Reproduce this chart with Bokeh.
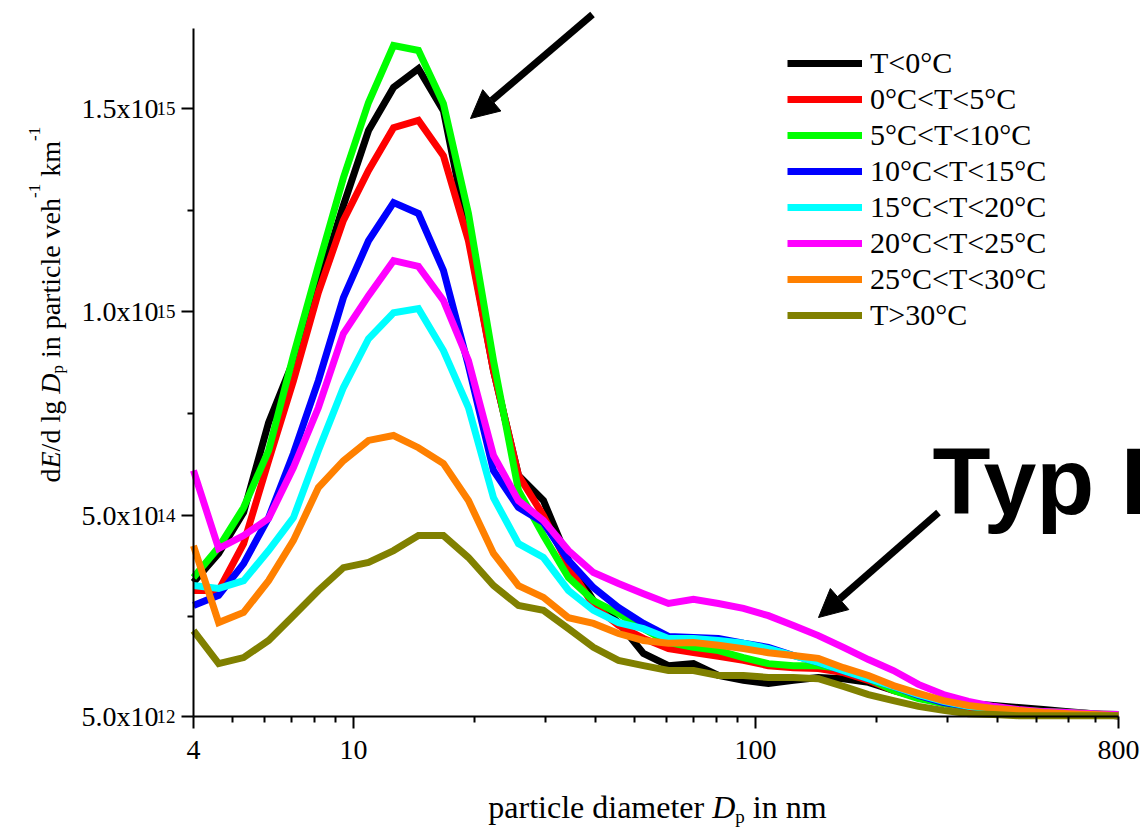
import math

from bokeh.plotting import figure
from bokeh.models import (Range1d, FixedTicker, PrintfTickFormatter, CustomJSTickFormatter,
                          Legend, LegendItem, Label, Arrow, NormalHead)
from bokeh.embed import file_html
from bokeh.resources import INLINE

# ---------------------------------------------------------------- data
# particle diameter channels in nm
diameters = [4.00, 4.62, 5.33, 6.15, 7.09, 8.18, 9.44, 10.90, 12.58, 14.51,
             16.74, 19.32, 22.30, 25.73, 29.69, 34.26, 39.53, 45.62, 52.64, 60.75,
             70.10, 80.89, 93.34, 107.7, 124.3, 143.4, 165.5, 191.0, 220.4, 254.3,
             293.5, 338.7, 390.8, 451.0, 520.4, 600.5, 693.0, 800.0]

# emission factors dE/dlgDp, in units of 1e14 particles per vehicle and km
t_below_0 = [3.35, 4.06, 5.07, 7.28, 8.80, 10.65, 12.62, 14.46, 15.52, 15.98,
             14.95, 11.88, 8.56, 5.98, 5.36, 3.89, 2.90, 2.36, 1.60, 1.30,
             1.35, 1.06, 0.94, 0.86, 0.94, 1.01, 0.98, 0.89, 0.69, 0.52,
             0.44, 0.37, 0.32, 0.27, 0.22, 0.17, 0.12, 0.07]
t_0_5 = [3.15, 3.15, 4.30, 6.34, 8.31, 10.48, 12.25, 13.48, 14.53, 14.71,
         13.84, 11.75, 8.56, 5.98, 4.99, 3.76, 2.78, 2.29, 1.97, 1.72,
         1.62, 1.53, 1.43, 1.30, 1.25, 1.23, 1.13, 0.94, 0.69, 0.52,
         0.37, 0.27, 0.22, 0.17, 0.15, 0.12, 0.10, 0.07]
t_5_10 = [3.47, 4.21, 5.19, 6.59, 8.93, 11.14, 13.30, 15.15, 16.55, 16.43,
          15.12, 12.42, 8.80, 5.61, 4.50, 3.47, 2.90, 2.58, 2.21, 1.87,
          1.75, 1.67, 1.50, 1.35, 1.30, 1.30, 1.23, 0.98, 0.69, 0.49,
          0.37, 0.30, 0.25, 0.20, 0.17, 0.15, 0.12, 0.10]
t_10_15 = [2.78, 3.03, 3.81, 4.94, 6.52, 8.31, 10.35, 11.75, 12.69, 12.42,
           11.02, 8.68, 6.10, 5.19, 4.82, 3.89, 3.22, 2.73, 2.34, 2.02,
           1.99, 1.97, 1.85, 1.75, 1.55, 1.38, 1.18, 0.98, 0.79, 0.57,
           0.39, 0.30, 0.22, 0.17, 0.15, 0.12, 0.10, 0.07]
t_15_20 = [3.27, 3.20, 3.39, 4.13, 4.94, 6.59, 8.14, 9.34, 9.98, 10.08,
           9.05, 7.65, 5.43, 4.30, 3.96, 3.15, 2.66, 2.36, 2.21, 1.97,
           1.97, 1.92, 1.85, 1.72, 1.55, 1.38, 1.18, 0.98, 0.79, 0.59,
           0.42, 0.30, 0.22, 0.17, 0.15, 0.12, 0.10, 0.07]
t_20_25 = [6.10, 4.18, 4.50, 4.92, 6.17, 7.65, 9.47, 10.40, 11.26, 11.12,
           10.28, 8.80, 6.47, 5.36, 4.87, 4.13, 3.59, 3.32, 3.07, 2.83,
           2.93, 2.83, 2.71, 2.53, 2.29, 2.04, 1.75, 1.45, 1.18, 0.84,
           0.59, 0.42, 0.30, 0.22, 0.17, 0.15, 0.12, 0.10]
t_25_30 = [4.25, 2.36, 2.61, 3.39, 4.38, 5.68, 6.34, 6.84, 6.96, 6.66,
           6.27, 5.36, 4.06, 3.27, 2.98, 2.48, 2.34, 2.09, 1.92, 1.85,
           1.87, 1.80, 1.72, 1.62, 1.55, 1.48, 1.25, 1.06, 0.81, 0.62,
           0.44, 0.32, 0.25, 0.20, 0.15, 0.12, 0.10, 0.07]
t_above_30 = [2.16, 1.35, 1.50, 1.92, 2.53, 3.15, 3.71, 3.84, 4.13, 4.50,
              4.50, 3.96, 3.27, 2.78, 2.66, 2.21, 1.75, 1.43, 1.30, 1.18,
              1.18, 1.06, 1.06, 1.01, 1.01, 0.98, 0.79, 0.59, 0.44, 0.30,
              0.20, 0.12, 0.10, 0.07, 0.07, 0.07, 0.07, 0.07]
UNIT = 1e14

series_labels = ["T<0°C", "0°C<T<5°C", "5°C<T<10°C", "10°C<T<15°C",
                 "15°C<T<20°C", "20°C<T<25°C", "25°C<T<30°C", "T>30°C"]
series_values = [t_below_0, t_0_5, t_5_10, t_10_15, t_15_20, t_20_25, t_25_30, t_above_30]
series_colors = ["#000000", "#ff0000", "#00ff00", "#0000ff",
                 "#00ffff", "#ff00ff", "#ff8000", "#808000"]

x_ticks = [4, 10, 100, 800]
x_minor_ticks = [5, 6, 7, 8, 9, 20, 30, 40, 50, 60, 70, 80, 90,
                 200, 300, 400, 500, 600, 700]
y_ticks = [5e12, 5e14, 1e15, 1.5e15]
y_tick_mantissas = ["5.0x10", "5.0x10", "1.0x10", "1.5x10"]
y_tick_exponents = ["12", "14", "15", "15"]
y_minor_ticks = [2.5e14, 7.5e14, 1.25e15]

X_MIN, X_MAX = 4, 800          # extent of the x axis
Y_MIN, Y_MAX = 5e12, 1.697e15  # extent of the y axis

# ---------------------------------------------------------------- layout
# The plotting area fills the whole canvas; the axes sit at fixed data
# positions so that titles and notes around them are not clipped.
WIDTH, HEIGHT = 1140, 827
AX_LEFT, AX_RIGHT, AX_TOP, AX_BOTTOM = 193, 1118, 28, 716   # axis box in px
SERIF = "Liberation Serif"
SANS = "Liberation Sans"

_lx0, _lx1 = math.log10(X_MIN), math.log10(X_MAX)
_dec_per_px = (_lx1 - _lx0) / (AX_RIGHT - AX_LEFT)
_val_per_px = (Y_MAX - Y_MIN) / (AX_BOTTOM - AX_TOP)
x_view = (10 ** (_lx0 - AX_LEFT * _dec_per_px), 10 ** (_lx1 + (WIDTH - AX_RIGHT) * _dec_per_px))
y_view = (Y_MIN - (HEIGHT - AX_BOTTOM) * _val_per_px, Y_MAX + AX_TOP * _val_per_px)


def x_at(px):
    """canvas x pixel -> data x (log scale)"""
    return 10 ** (_lx0 + (px - AX_LEFT) * _dec_per_px)


def y_at(py):
    """canvas y pixel (from top) -> data y"""
    return Y_MIN + (AX_BOTTOM - py) * _val_per_px


# advance widths of Liberation Serif, 1/1000 em
ADV = {" ": 250, "a": 444, "c": 444, "d": 500, "e": 444, "g": 500, "h": 500,
       "i": 278, "k": 500, "l": 278, "m": 778, "n": 500, "p": 500, "r": 333,
       "t": 278, "v": 500, "/": 278, "-": 333, "1": 500, "D": 722, "E": 611}


def advance(s, size):
    return sum(ADV[c] for c in s) * size / 1000.0


p = figure(
    x_axis_type="log",
    x_range=Range1d(*x_view),
    y_range=Range1d(*y_view),
    width=WIDTH, height=HEIGHT, min_border=0,
    output_backend="svg", toolbar_location=None,
    background_fill_color="white", border_fill_color="white",
)
p.outline_line_color = None
p.grid.visible = False

for ax in (p.xaxis[0], p.yaxis[0]):
    ax.axis_line_width = 2
    ax.axis_line_color = "black"
    ax.major_tick_line_width = 2
    ax.minor_tick_line_width = 2
    ax.major_tick_line_color = "black"
    ax.minor_tick_line_color = "black"
    ax.major_tick_in = 0
    ax.major_tick_out = 12
    ax.minor_tick_in = 0
    ax.minor_tick_out = 6
    ax.major_label_text_font = SERIF
    ax.major_label_text_color = "black"

xa, ya = p.xaxis[0], p.yaxis[0]
xa.fixed_location = Y_MIN
xa.bounds = (X_MIN, X_MAX)
xa.ticker = FixedTicker(ticks=x_ticks, minor_ticks=x_minor_ticks)
xa.formatter = PrintfTickFormatter(format="%d")
xa.major_label_text_font_size = "28px"
xa.major_label_standoff = 12

ya.fixed_location = X_MIN
ya.bounds = (Y_MIN, Y_MAX)
ya.ticker = FixedTicker(ticks=y_ticks, minor_ticks=y_minor_ticks)
ya.formatter = CustomJSTickFormatter(
    args=dict(tick_values=y_ticks, tick_texts=y_tick_mantissas),
    code="const i = tick_values.indexOf(tick); return i < 0 ? '' : tick_texts[i];")
ya.major_label_text_font_size = "28px"
ya.major_label_standoff = 23

# powers of ten, raised next to the y tick labels
for tick, expo in zip(y_ticks, y_tick_exponents):
    p.add_layout(Label(x=x_at(156), y=tick, text=expo, text_font=SERIF,
                       text_font_size="19px", text_align="left",
                       text_baseline="alphabetic", text_color="black"))

# ---------------------------------------------------------------- curves
items = []
for label, vals, color in zip(series_labels, series_values, series_colors):
    r = p.line(diameters, [v * UNIT for v in vals], line_color=color,
               line_width=7, line_join="miter")
    items.append(LegendItem(label=label, renderers=[r]))

legend = Legend(items=items, location=(787, HEIGHT - 332),
                label_text_font=SERIF, label_text_font_size="30px",
                label_text_color="black",
                glyph_width=75, glyph_height=30, label_height=30, spacing=2,
                label_standoff=8, padding=0, margin=0,
                border_line_color=None, background_fill_alpha=0)
p.add_layout(legend)

# ---------------------------------------------------------------- axis titles
def place_pieces(pieces, start, base, vertical):
    pos = start
    for text, italic, size, shift in pieces:
        stripped = text.lstrip(" ")
        lead = advance(text[:len(text) - len(stripped)], size)
        along = pos + (-lead if vertical else lead)
        if vertical:
            lx, ly, ang = x_at(base + shift), y_at(along), math.pi / 2
        else:
            lx, ly, ang = x_at(along), y_at(base + shift), 0
        p.add_layout(Label(x=lx, y=ly, text=stripped, angle=ang,
                           text_font=SERIF, text_font_size=f"{size}px",
                           text_font_style="italic" if italic else "normal",
                           text_align="left", text_baseline="alphabetic",
                           text_color="black"))
        step = advance(text, size)
        pos = pos - step if vertical else pos + step


x_title = [("particle diameter ", False, 32, 0), ("D", True, 32, 0),
           ("p", False, 19, 10), (" in nm", False, 32, 0)]
x_title_w = sum(advance(t, s) for t, _, s, _ in x_title)
place_pieces(x_title, 657 - x_title_w / 2, 806, vertical=False)

y_title = [("d", False, 28, 0), ("E", True, 28, 0), ("/d lg ", False, 28, 0),
           ("D", True, 28, 0), ("p", False, 17, 7), (" in particle veh", False, 28, 0),
           ("-1", False, 17, -16), (" km", False, 28, 0), ("-1", False, 17, -16)]
place_pieces(y_title, 482, 50, vertical=True)

# ---------------------------------------------------------------- annotations
p.add_layout(Label(x=x_at(932), y=y_at(480), text="Typ I", text_font=SANS,
                   text_font_size="95px", text_font_style="bold",
                   text_align="left", text_baseline="alphabetic", text_color="black"))

for (x0, y0), (x1, y1) in [((592, 14), (470, 118)), ((938, 512), (818, 617))]:
    p.add_layout(Arrow(end=NormalHead(size=28, fill_color="black", line_color="black"),
                       x_start=x_at(x0), y_start=y_at(y0),
                       x_end=x_at(x1), y_end=y_at(y1),
                       line_width=7, line_color="black"))

open("out.html", "w").write(file_html(p, INLINE))
